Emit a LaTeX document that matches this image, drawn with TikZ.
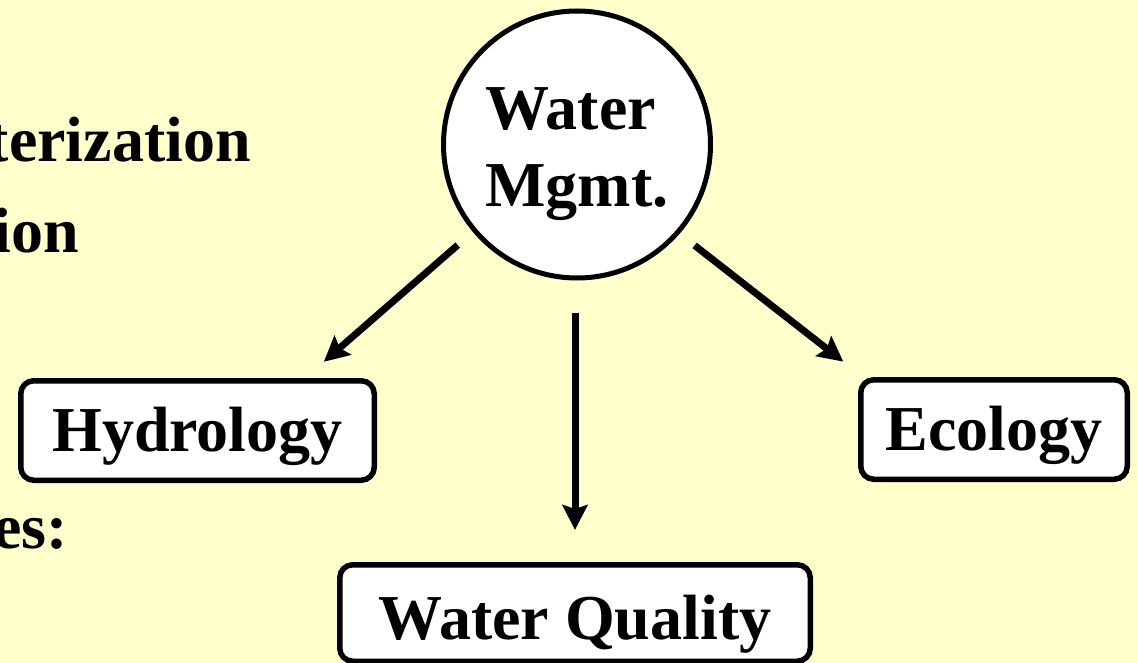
\documentclass[tikz,border=0pt]{standalone}
\usepackage{fontspec}
\setmainfont{Liberation Serif}
\usetikzlibrary{arrows.meta,calc}
\definecolor{bg}{RGB}{255,255,204}
\begin{document}
\begin{tikzpicture}[x=1pt,y=-1pt,
  every node/.style={font=\bfseries\fontsize{64pt}{77pt}\selectfont, inner sep=0pt},
  box/.style={draw, line width=5.5pt, rounded corners=13pt, fill=white, text height=42.4pt, text depth=0pt},
  hub/.style={draw, circle, line width=5pt, fill=white, minimum size=267pt, align=left, text height=124.4pt, text depth=0pt},
  arr/.style={line width=7pt, -{Stealth[length=25pt,width=25pt,inset=4pt]}},
  frag/.style={anchor=base east}]
\fill[bg] (0,0) rectangle (1138,663);
\useasboundingbox (0,0) rectangle (1138,663);

\node[frag] (f1) at (251,161.7) {terization};
\node[frag] (f2) at (79,253) {ion};
\node[frag] (f3) at (68,548) {es:};

\node[hub] (wm) at (577,144.5) {Water\\Mgmt.};
\node[box, minimum width=353.5pt, minimum height=99.5pt] (hyd) at (197.5,430.5) {Hydrology};
\node[box, minimum width=266.5pt, minimum height=99.5pt] (eco) at (994,429.5) {Ecology};
\node[box, minimum width=470.5pt, minimum height=96.5pt, text height=52pt] (wq) at (575,613) {Water Quality};

\draw[arr, shorten <=20pt, shorten >=24.7pt] (wm.220) -- ($(hyd.north)!0.6!(hyd.north east)$);
\draw[arr, shorten <=19pt, shorten >=25pt] (wm.-41) -- ($(eco.north west)+(5,0)$);
\draw[arr, shorten <=32.5pt, shorten >=32pt] (wm.south -| wq.north) -- (wq.north);
\end{tikzpicture}
\end{document}
